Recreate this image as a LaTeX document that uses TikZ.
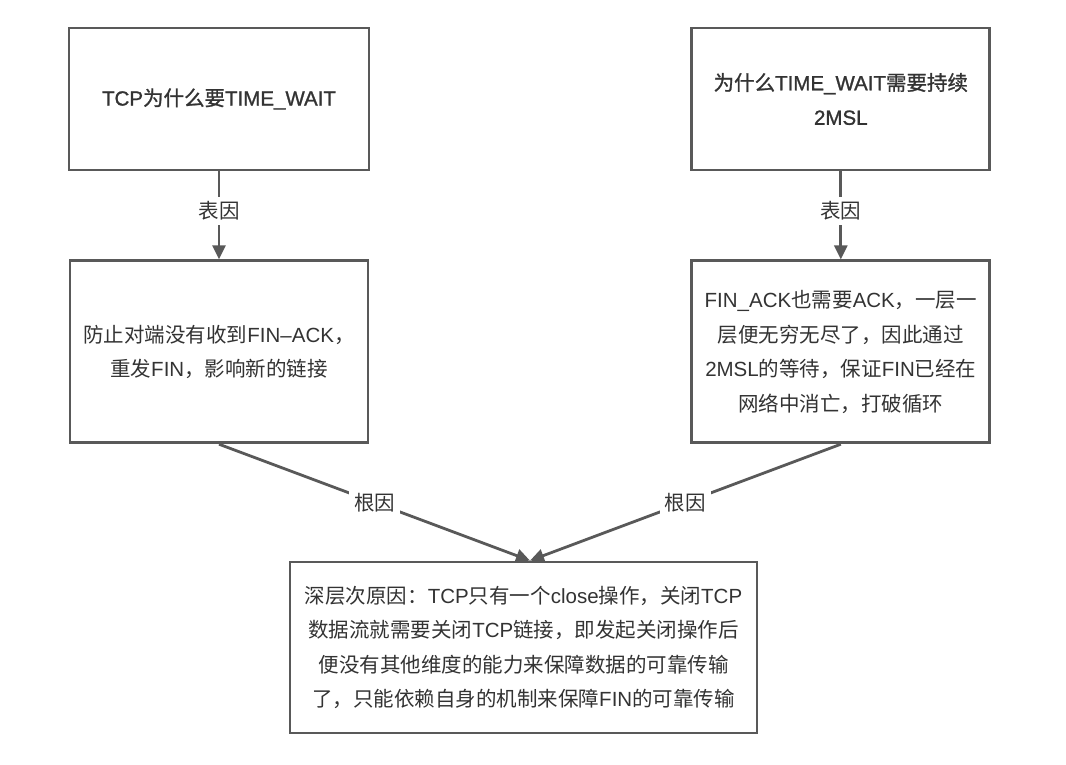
\documentclass[tikz,border=0pt]{standalone}
\usepackage{fontspec}
\setmainfont{Noto Sans CJK SC}
\newfontfamily\latinfont{Liberation Sans}
\newfontfamily\headfont[FakeBold=1.1]{Noto Sans CJK SC}
\newfontfamily\headlatin[FakeBold=1.1]{Liberation Sans}
\newcommand{\en}[1]{{\latinfont #1}}
\newcommand{\hen}[1]{{\headlatin #1}}
\usepackage{tikz}
\usetikzlibrary{arrows.meta}
\usetikzlibrary{positioning}
\definecolor{edgegray}{HTML}{595959}
\definecolor{textgray}{HTML}{333333}
\tikzstyle{block} = [rectangle, draw=edgegray, line width=2.8pt, fill=white,
text=textgray, align=center, minimum width=300pt, minimum height=142pt, inner sep=0pt]
\tikzstyle{head} = [font=\headfont\fontsize{20.5}{34.5}\selectfont]
\tikzstyle{line} = [draw=edgegray, line width=2.8pt, -{Triangle[length=14pt,width=13pt]}]
\tikzstyle{reason} = [fill=white, text=textgray, inner sep=5pt]

\begin{document}
\begin{tikzpicture}[x=1pt, y=-1pt, font=\fontsize{20.5}{34.5}\selectfont]
\useasboundingbox (0,0) rectangle (1066,764);
% Place nodes
\node [block, head] (why) at (219,99) {\hen{TCP}为什么要\hen{TIME\_WAIT}};
\node [block, head, right=320pt of why, minimum width=298pt] (msl) {为什么\hen{TIME\_WAIT}需要持续\\\hen{2MSL}};
\node [block, below=88pt of why, minimum width=298pt, minimum height=182pt] (refin) {防止对端没有收到\en{FIN–ACK}，\\重发\en{FIN}，影响新的链接};
\node [block, below=88pt of msl, minimum width=298pt, minimum height=182pt] (loop) {\en{FIN\_ACK}也需要\en{ACK}，一层一\\层便无穷无尽了，因此通过\\\en{2MSL}的等待，保证\en{FIN}已经在\\网络中消亡，打破循环};
\node [block, minimum width=467pt, minimum height=171pt] (deep) at (523.5,647.5) {深层次原因：\en{TCP}只有一个\en{close}操作，关闭\en{TCP}\\数据流就需要关闭\en{TCP}链接，即发起关闭操作后\\便没有其他维度的能力来保障数据的可靠传输\\了，只能依赖自身的机制来保障\en{FIN}的可靠传输};

% Draw edges
\path [line] (why) -- node [reason, pos=0.45] {表因} (refin);
\path [line] (msl) -- node [reason, pos=0.45] {表因} (loop);
\path [line] (refin.south) -- node [reason] {根因} ([xshift=6.5pt]deep.north);
\path [line] (loop.south) -- node [reason] {根因} ([xshift=6.5pt]deep.north);
\end{tikzpicture}
\end{document}
